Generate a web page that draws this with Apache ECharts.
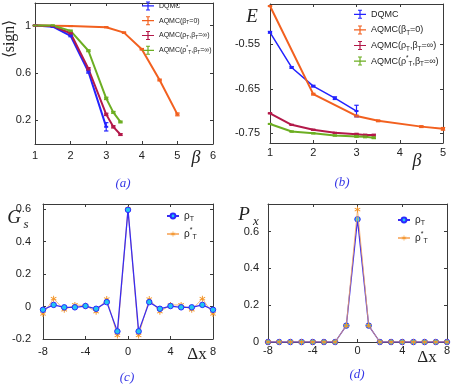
<!DOCTYPE html>
<html>
<head>
<meta charset="utf-8">
<script src="https://cdn.jsdelivr.net/npm/echarts@6/dist/echarts.min.js"></script>
<style>
  html, body { margin: 0; padding: 0; background: #fff; }
  #chart { width: 463px; height: 386px; }
</style>
</head>
<body>
<div id="chart"></div>
<script>
// ---- (a) average sign vs beta ----
const betaDQMC = [1, 1.5, 2, 2.5, 3];
const signDQMC = [1, 0.99, 0.913, 0.61, 0.145];
const signDQMCErr = [0.003, 0.004, 0.008, 0.012, 0.035];
const betaAQMC0a = [1, 2, 3, 3.5, 4, 4.5, 5];
const signAQMC0 = [1, 0.995, 0.986, 0.94, 0.80, 0.54, 0.25];
const signAQMC0Err = [0.002, 0.003, 0.004, 0.005, 0.006, 0.008, 0.012];
const betaAQMCinf = [1, 1.5, 2, 2.5, 3, 3.2, 3.4];
const signAQMCrho = [1, 0.995, 0.935, 0.635, 0.25, 0.145, 0.08];
const signAQMCrhoErr = [0.002, 0.003, 0.006, 0.01, 0.01, 0.01, 0.008];
const signAQMCstar = [1, 1, 0.955, 0.787, 0.385, 0.267, 0.186];
const signAQMCstarErr = [0.002, 0.003, 0.006, 0.008, 0.01, 0.008, 0.008];

// ---- (b) energy vs beta ----
const energyDQMC = [-0.523, -0.602, -0.644, -0.671, -0.700];
const energyDQMCErr = [0.002, 0.002, 0.002, 0.003, 0.013];
const betaAQMC0b = [1, 2, 3, 3.5, 4.5, 5];
const energyAQMC0 = [-0.464, -0.662, -0.711, -0.722, -0.735, -0.740];
const energyAQMC0Err = [0.001, 0.002, 0.002, 0.002, 0.002, 0.003];
const energyAQMCrho = [-0.705, -0.731, -0.742, -0.749, -0.752, -0.754, -0.754];
const energyAQMCrhoErr = [0.001, 0.001, 0.001, 0.001, 0.002, 0.002, 0.002];
const energyAQMCstar = [-0.729, -0.746, -0.750, -0.755, -0.757, -0.758, -0.760];
const energyAQMCstarErr = [0.001, 0.001, 0.001, 0.001, 0.002, 0.002, 0.002];

// ---- (c) G_s and (d) P_x vs dx ----
const dx = [-8, -7, -6, -5, -4, -3, -2, -1, 0, 1, 2, 3, 4, 5, 6, 7, 8];
const gsRho = [-0.02, 0.01, -0.005, -0.005, 0.003, -0.014, 0.027, -0.153, 0.595, -0.153, 0.027, -0.014, 0.003, -0.005, -0.005, 0.01, -0.02];
const gsRhoStar = [-0.046, 0.048, -0.02, 0.01, 0.005, -0.032, 0.046, -0.178, 0.6, -0.178, 0.046, -0.032, 0.009, 0.01, -0.02, 0.048, -0.046];
const pxRho = [0, 0, 0, 0, 0, 0, 0, 0.089, 0.667, 0.089, 0, 0, 0, 0, 0, 0, 0];
const pxRhoStar = [0, 0, 0, 0, 0, 0, 0, 0.089, 0.72, 0.089, 0, 0, 0, 0, 0, 0, 0];

const blue = '#2323ff', orange = '#f2601f', crimson = '#b3194a', green = '#6cae22';
const axisCol = '#3a3a3a';
const labelFont = { fontFamily: 'Liberation Sans', fontSize: 11, color: '#222' };
const starPath = 'path://M-0.15,-1L0.15,-1L0.15,-0.26L0.8,-0.63L0.95,-0.37L0.3,0L0.95,0.37L0.8,0.63L0.15,0.26L0.15,1L-0.15,1L-0.15,0.26L-0.8,0.63L-0.95,0.37L-0.3,0L-0.95,-0.37L-0.8,-0.63L-0.15,-0.26Z';
// line with an error bar, used as legend icon
const errIcon = 'path://M0,4.4L12,4.4L12,5.6L0,5.6Z M5.4,0.5L6.6,0.5L6.6,9.5L5.4,9.5Z M4,0.5L8,0.5L8,1.5L4,1.5Z M4,8.5L8,8.5L8,9.5L4,9.5Z';

function zip(xs, ys, es) {
  return xs.map((x, i) => es ? [x, ys[i], es[i]] : [x, ys[i]]);
}

// a value axis pair (labelled + mirrored) for a grid
function axisPair(kind, gi, min, max, ticks, margin, fmt) {
  const main = {
    type: 'value', gridIndex: gi, min: min, max: max,
    position: kind === 'x' ? 'bottom' : 'left',
    axisLine: { show: true, onZero: false, lineStyle: { color: axisCol, width: 1 } },
    axisTick: { show: true, inside: true, length: 3, customValues: ticks, lineStyle: { color: axisCol } },
    axisLabel: Object.assign({ show: true, margin: margin, customValues: ticks, formatter: fmt }, labelFont),
    splitLine: { show: false }
  };
  const mirror = {
    type: 'value', gridIndex: gi, min: min, max: max,
    position: kind === 'x' ? 'top' : 'right',
    axisLine: { show: true, onZero: false, lineStyle: { color: axisCol, width: 1 } },
    axisTick: { show: true, inside: true, length: 3, customValues: ticks, lineStyle: { color: axisCol } },
    axisLabel: { show: false },
    splitLine: { show: false }
  };
  return [main, mirror];
}

function errSeries(gi, data, color) {
  return {
    type: 'custom', xAxisIndex: 2 * gi, yAxisIndex: 2 * gi, data: data, z: 4,
    encode: { x: 0, y: 1 },
    renderItem: function (params, api) {
      const x = api.value(0), y = api.value(1), e = api.value(2);
      const lo = api.coord([x, y - e]), hi = api.coord([x, y + e]);
      const w = 2.2, st = { stroke: color, lineWidth: 1.2 };
      return {
        type: 'group', children: [
          { type: 'line', shape: { x1: lo[0], y1: lo[1], x2: hi[0], y2: hi[1] }, style: st },
          { type: 'line', shape: { x1: lo[0] - w, y1: lo[1], x2: lo[0] + w, y2: lo[1] }, style: st },
          { type: 'line', shape: { x1: hi[0] - w, y1: hi[1], x2: hi[0] + w, y2: hi[1] }, style: st }
        ]
      };
    }
  };
}

function lineSeries(gi, name, data, color, width) {
  return {
    type: 'line', name: name, xAxisIndex: 2 * gi, yAxisIndex: 2 * gi, data: data,
    symbol: 'rect', symbolSize: [4, 2], showAllSymbol: true,
    lineStyle: { color: color, width: width },
    itemStyle: { color: color }, z: 3
  };
}

const names = ['DQMC', 'AQMC(βT=0)', 'AQMC(ρT,βT=∞)', 'AQMC(ρ*T,βT=∞)'];
const richNames = {
  'DQMC': 'DQMC',
  'AQMC(βT=0)': 'AQMC(β{s|T}=0)',
  'AQMC(ρT,βT=∞)': 'AQMC(ρ{s|T},β{s|T}=∞)',
  'AQMC(ρ*T,βT=∞)': 'AQMC(ρ{p|*}{s|T},β{s|T}=∞)',
  'ρT': 'ρ{s|T}',
  'ρ*T': 'ρ{p|*}{s|T}'
};
function richFor(fs) {
  return {
    s: { fontSize: fs * 0.7, fontFamily: 'Liberation Sans', verticalAlign: 'bottom', lineHeight: fs * 1.4, color: '#222' },
    p: { fontSize: fs * 0.7, fontFamily: 'Liberation Sans', verticalAlign: 'top', lineHeight: fs * 1.4, color: '#222' }
  };
}
function legendAt(left, top, data, fs, gap, icon) {
  const lg = {
    orient: 'vertical', left: left, top: top, data: data, itemGap: gap,
    itemWidth: 12, itemHeight: icon ? 9 : 6, padding: 0,
    formatter: n => richNames[n],
    textStyle: { fontFamily: 'Liberation Sans', fontSize: fs, color: '#222', lineHeight: fs * 1.4, rich: richFor(fs) }
  };
  if (icon) lg.icon = icon;
  return lg;
}

const xA = axisPair('x', 0, 1, 6, [1, 2, 3, 4, 5, 6], 6);
const yA = axisPair('y', 0, 0, 1.19, [0.2, 0.6, 1], 4);
const xB = axisPair('x', 1, 1, 5, [1, 2, 3, 4, 5], 4);
const yB = axisPair('y', 1, -0.7718, -0.4594, [-0.75, -0.65, -0.55], 10, v => v.toFixed(2));
const xC = axisPair('x', 2, -8, 8, [-8, -4, 0, 4, 8], 7);
const yC = axisPair('y', 2, -0.2, 0.631, [-0.2, 0, 0.2, 0.4, 0.6], 12);
const xD = axisPair('x', 3, -8, 8, [-8, -4, 0, 4, 8], 3);
const yD = axisPair('y', 3, 0, 0.75, [0, 0.2, 0.4, 0.6], 9);

const serif = 'Liberation Serif';
function txt(x, y, text, size, extra) {
  return Object.assign({
    type: 'text', x: x, y: y,
    style: { text: text, font: 'italic ' + size + 'px "' + serif + '"', fill: '#222', align: 'center', verticalAlign: 'middle' }
  }, extra || {});
}

const option = {
  animation: false,
  backgroundColor: '#fff',
  grid: [
    { left: 35, top: 3, width: 178, height: 141 },
    { left: 270, top: 4, width: 173, height: 139 },
    { left: 43, top: 204, width: 170, height: 135 },
    { left: 268, top: 204, width: 179, height: 138 }
  ],
  xAxis: [].concat(xA, xB, xC, xD),
  yAxis: [].concat(yA, yB, yC, yD),
  legend: [
    legendAt(142, 1, names, 7, 5, errIcon),
    legendAt(354, 8, names, 9, 3, errIcon),
    legendAt(166, 209, ['ρT', 'ρ*T'], 10, 4),
    legendAt(397, 213, ['ρT', 'ρ*T'], 10, 4)
  ],
  series: [
    // (a)
    lineSeries(0, names[0], zip(betaDQMC, signDQMC), blue, 2),
    lineSeries(0, names[1], zip(betaAQMC0a, signAQMC0), orange, 2),
    lineSeries(0, names[2], zip(betaAQMCinf, signAQMCrho), crimson, 2),
    lineSeries(0, names[3], zip(betaAQMCinf, signAQMCstar), green, 2),
    errSeries(0, zip(betaDQMC, signDQMC, signDQMCErr), blue),
    errSeries(0, zip(betaAQMC0a, signAQMC0, signAQMC0Err), orange),
    errSeries(0, zip(betaAQMCinf, signAQMCrho, signAQMCrhoErr), crimson),
    errSeries(0, zip(betaAQMCinf, signAQMCstar, signAQMCstarErr), green),
    // (b)
    lineSeries(1, names[0], zip(betaDQMC, energyDQMC), blue, 1.5),
    lineSeries(1, names[1], zip(betaAQMC0b, energyAQMC0), orange, 2),
    lineSeries(1, names[2], zip(betaAQMCinf, energyAQMCrho), crimson, 2),
    lineSeries(1, names[3], zip(betaAQMCinf, energyAQMCstar), green, 2),
    errSeries(1, zip(betaDQMC, energyDQMC, energyDQMCErr), blue),
    errSeries(1, zip(betaAQMC0b, energyAQMC0, energyAQMC0Err), orange),
    errSeries(1, zip(betaAQMCinf, energyAQMCrho, energyAQMCrhoErr), crimson),
    errSeries(1, zip(betaAQMCinf, energyAQMCstar, energyAQMCstarErr), green),
    // (c)
    {
      type: 'line', name: 'ρT', xAxisIndex: 4, yAxisIndex: 4, data: zip(dx, gsRho), z: 3,
      symbol: 'circle', symbolSize: 5.5, showAllSymbol: true,
      lineStyle: { color: '#3a2cf0', width: 1.3 },
      itemStyle: { color: '#22c6f0', borderColor: '#2a2aff', borderWidth: 1 }
    },
    {
      type: 'line', name: 'ρ*T', xAxisIndex: 4, yAxisIndex: 4, data: zip(dx, gsRhoStar), z: 2,
      symbol: starPath, symbolSize: 6, showAllSymbol: true,
      lineStyle: { color: '#f6a55a', width: 1, opacity: 0.8 },
      itemStyle: { color: '#f39426' }
    },
    // (d)
    {
      type: 'line', name: 'ρT', xAxisIndex: 6, yAxisIndex: 6, data: zip(dx, pxRho), z: 3,
      symbol: 'circle', symbolSize: 5.5, showAllSymbol: true,
      lineStyle: { color: '#3a2cf0', width: 1.3 },
      itemStyle: { color: '#22c6f0', borderColor: '#2a2aff', borderWidth: 1 }
    },
    {
      type: 'line', name: 'ρ*T', xAxisIndex: 6, yAxisIndex: 6, data: zip(dx, pxRhoStar), z: 4,
      symbol: starPath, symbolSize: 6, showAllSymbol: true,
      lineStyle: { color: '#f6a55a', width: 1, opacity: 0.8 },
      itemStyle: { color: '#f39426' }
    }
  ],
  graphic: [
    // axis titles
    txt(10, 39, '⟨sign⟩', 16, { rotation: Math.PI / 2, style: { text: '⟨sign⟩', font: '16px "' + serif + '"', fill: '#222', align: 'center', verticalAlign: 'middle' } }),
    txt(196, 158, 'β', 18),
    txt(252, 17, 'E', 19),
    txt(417, 161, 'β', 18),
    txt(14, 218, 'G', 19),
    txt(26, 225, 's', 13),
    txt(244, 215, 'P', 19),
    txt(256, 222, 'x', 13),
    { type: 'text', x: 197, y: 355, style: { text: 'Δx', font: '17px "' + serif + '"', fill: '#222', align: 'center', verticalAlign: 'middle' } },
    { type: 'text', x: 427, y: 358, style: { text: 'Δx', font: '17px "' + serif + '"', fill: '#222', align: 'center', verticalAlign: 'middle' } },
    // panel captions
    { type: 'text', x: 123, y: 184, style: { text: '(a)', font: 'italic 13px "' + serif + '"', fill: '#3636e6', align: 'center', verticalAlign: 'middle' } },
    { type: 'text', x: 342, y: 183, style: { text: '(b)', font: 'italic 13px "' + serif + '"', fill: '#3636e6', align: 'center', verticalAlign: 'middle' } },
    { type: 'text', x: 127, y: 378, style: { text: '(c)', font: 'italic 13px "' + serif + '"', fill: '#3636e6', align: 'center', verticalAlign: 'middle' } },
    { type: 'text', x: 357, y: 375, style: { text: '(d)', font: 'italic 13px "' + serif + '"', fill: '#3636e6', align: 'center', verticalAlign: 'middle' } }
  ]
};

const chart = echarts.init(document.getElementById('chart'));
chart.setOption(option);
</script>
</body>
</html>
